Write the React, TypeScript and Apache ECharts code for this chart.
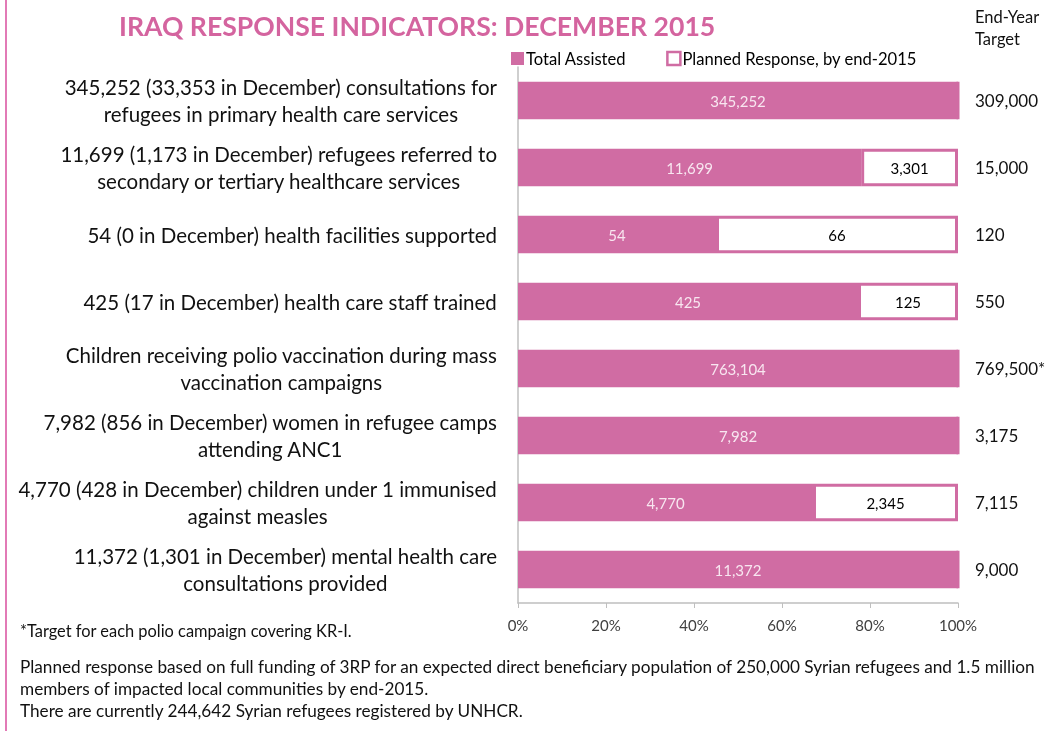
import React, { useEffect, useRef } from "react";
import * as echarts from "echarts";

const categories = [
  "345,252 (33,353 in December) consultations for\nrefugees in primary health care services",
  "11,699 (1,173 in December) refugees referred to\nsecondary or tertiary healthcare services",
  "54 (0 in December) health facilities supported",
  "425 (17 in December) health care staff trained",
  "Children receiving polio vaccination during mass\nvaccination campaigns",
  "7,982 (856 in December) women in refugee camps\nattending ANC1",
  "4,770 (428 in December) children under 1 immunised\nagainst measles",
  "11,372 (1,301 in December) mental health care\nconsultations provided",
];
const totalAssisted = [345252, 11699, 54, 425, 763104, 7982, 4770, 11372];
const plannedRemaining = [0, 3301, 66, 125, 0, 0, 2345, 0];
const targetLabels = ["309,000", "15,000", "120", "550", "769,500*", "3,175", "7,115", "9,000"];
const xTicks = [0, 20, 40, 60, 80, 100];

const PINK = "#d06ca3";
const FONT = "Lato, 'Open Sans', sans-serif";
const fmt = (v: number) => v.toLocaleString("en-US");

export default function App() {
  const ref = useRef<HTMLDivElement>(null);
  useEffect(() => {
    if (!ref.current) return;
    const chart = echarts.init(ref.current, undefined, { renderer: "svg" });
    const totalShare = totalAssisted.map((t, i) => (t / (t + plannedRemaining[i])) * 100);
    const plannedShare = plannedRemaining.map((p, i) => (p / (totalAssisted[i] + p)) * 100);
    chart.setOption({
      animation: false,
      textStyle: { fontFamily: FONT },
      title: {
        text: "IRAQ RESPONSE INDICATORS: DECEMBER 2015",
        left: 114,
        top: 7,
        textStyle: { color: "#d4649f", fontSize: 26.6, fontWeight: "bold", fontFamily: FONT },
      },
      legend: {
        left: 506,
        top: 45,
        itemWidth: 13,
        itemHeight: 13,
        itemGap: 40,
        textStyle: { fontSize: 16.6, color: "#000", fontFamily: FONT, padding: [0, 0, 0, -3] },
        data: [
          { name: "Total Assisted", icon: "rect", itemStyle: { color: PINK } },
          { name: "Planned Response, by end-2015", icon: "rect", itemStyle: { color: "#fff", borderColor: PINK, borderWidth: 2.5 } },
        ],
      },
      grid: { left: 518, right: 97, top: 67, bottom: 128, containLabel: false },
      xAxis: {
        type: "value",
        min: 0,
        max: 100,
        interval: 20,
        axisLine: { show: true, lineStyle: { color: "#bfbfbf", width: 1.5 } },
        axisTick: { show: true, length: 5, lineStyle: { color: "#bfbfbf" } },
        splitLine: { show: false },
        axisLabel: {
          margin: 14,
          fontSize: 15,
          color: "#404040",
          fontFamily: FONT,
          formatter: (v: number) => (xTicks.includes(v) ? v + "%" : ""),
        },
      },
      yAxis: [
        {
          type: "category",
          inverse: true,
          data: categories,
          axisLine: { show: true, lineStyle: { color: "#bfbfbf", width: 1.5 } },
          axisTick: { show: false },
          axisLabel: {
            margin: 21,
            align: "right",
            formatter: (v: string) => v.split("\n").map((l) => "{c|" + l + "}").join("\n"),
            rich: {
              c: { align: "center", fontSize: 20.5, lineHeight: 27, color: "#111", fontFamily: FONT },
            },
          },
        },
        {
          type: "category",
          inverse: true,
          position: "right",
          data: targetLabels,
          axisLine: { show: false },
          axisTick: { show: false },
          axisLabel: { margin: 17, fontSize: 17, color: "#111", fontFamily: FONT, align: "left" },
        },
      ],
      series: [
        {
          name: "Total Assisted",
          type: "bar",
          stack: "s",
          barCategoryGap: "44%",
          data: totalShare,
          itemStyle: { color: PINK },
          label: {
            show: true,
            position: "inside",
            color: "#f8e6f0",
            fontSize: 15,
            fontFamily: FONT,
            formatter: (p: any) => fmt(totalAssisted[p.dataIndex]),
          },
        },
        {
          name: "Planned Response, by end-2015",
          type: "bar",
          stack: "s",
          data: plannedShare,
          itemStyle: { color: "#fff", borderColor: PINK, borderWidth: 3 },
          label: {
            show: true,
            position: "inside",
            color: "#000",
            fontSize: 15,
            fontFamily: FONT,
            formatter: (p: any) => (plannedRemaining[p.dataIndex] > 0 ? fmt(plannedRemaining[p.dataIndex]) : ""),
          },
        },
      ],
      graphic: [
        { type: "rect", left: 5, top: 0, shape: { width: 2, height: 731 }, style: { fill: "#e27ab6" } },
        {
          type: "text",
          left: 975,
          top: 6,
          style: { text: "End-Year\nTarget", fontSize: 16.5, lineHeight: 22, fill: "#111", fontFamily: FONT },
        },
        {
          type: "text",
          left: 20,
          top: 622,
          style: { text: "*Target for each polio campaign covering KR-I.", fontSize: 16.4, fill: "#111", fontFamily: FONT },
        },
        {
          type: "text",
          left: 20,
          top: 655,
          style: {
            text:
              "Planned response based on full funding of 3RP for an expected direct beneficiary population of 250,000 Syrian refugees and 1.5 million\nmembers of impacted local communities by end-2015.\nThere are currently 244,642 Syrian refugees registered by UNHCR.",
            fontSize: 17.2,
            lineHeight: 22,
            fill: "#111",
            fontFamily: FONT,
          },
        },
      ],
    });
    return () => chart.dispose();
  }, []);
  return <div ref={ref} style={{ position: "fixed", left: 0, top: 0, width: 1055, height: 731 }} />;
}
